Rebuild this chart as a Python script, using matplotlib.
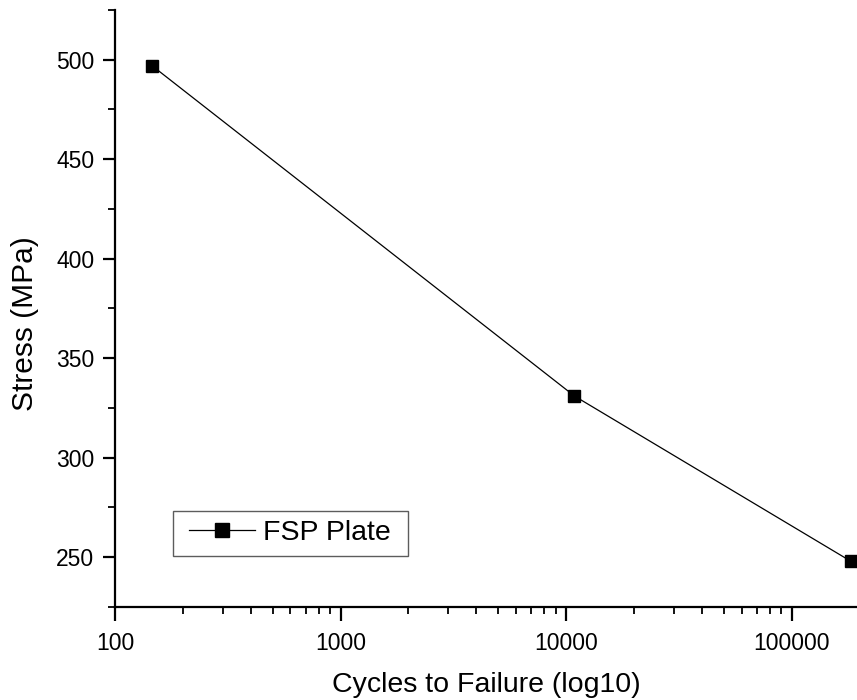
import matplotlib
matplotlib.use("Agg")
import matplotlib.pyplot as plt
from matplotlib.path import Path
from matplotlib.ticker import FixedLocator, MultipleLocator, FixedFormatter

plt.rcParams['font.family'] = ['Liberation Sans', 'DejaVu Sans']

cycles = [146, 10900, 183000]
stress = [497, 331, 248]
series_name = "FSP Plate"
xtick_vals = [100, 1000, 10000, 100000]
xtick_labels = ["100", "1000", "10000", "100000"]

W, H = 857, 700
fig = plt.figure(figsize=(W/100, H/100), dpi=100)
ax = fig.add_axes([115/W, (H-607)/H, (857-115)/W, (607-10)/H])

ax.plot(cycles, stress, color='black', lw=0.9, marker='s', markersize=8.7,
        markerfacecolor='black', markeredgecolor='black', clip_on=False,
        label=series_name)

ax.set_xscale('log')
ax.set_xlim(100, 195000)
ax.set_ylim(225, 525)
ax.xaxis.set_major_locator(FixedLocator(xtick_vals))
ax.xaxis.set_major_formatter(FixedFormatter(xtick_labels))
ax.yaxis.set_major_locator(MultipleLocator(50))
ax.yaxis.set_minor_locator(MultipleLocator(25))

for s in ['top', 'right']:
    ax.spines[s].set_visible(False)
for s in ['left', 'bottom']:
    ax.spines[s].set_linewidth(1.6)

ax.tick_params(which='major', direction='out', length=9, width=1.6, labelsize=16.5, pad=6)
ax.tick_params(which='minor', direction='out', length=5, width=1.3)
ax.tick_params(axis='x', which='major', length=10, pad=8)

ax.set_ylabel("Stress (MPa)", fontsize=21.5)
ax.yaxis.set_label_coords(-0.103, 0.474)
ax.set_xlabel("Cycles to Failure (log10)", fontsize=20.5, labelpad=12)

leg = ax.legend(loc='upper left', bbox_to_anchor=((180-115)/742, (607-511)/597),
                fontsize=20.5, frameon=True, fancybox=False, markerscale=1.15,
                handlelength=2.3, borderpad=0.33, handletextpad=0.3,
                borderaxespad=0)
leg.get_frame().set_edgecolor('#333333')
leg.get_frame().set_linewidth(1.0)


def wide_box(x0, y0, width, height, mutation_size):
    ex = 7
    xa, xb = x0 - ex, x0 + width + ex
    ya, yb = y0, y0 + height
    return Path([(xa, ya), (xb, ya), (xb, yb), (xa, yb), (xa, ya)], closed=True)


leg.get_frame().set_boxstyle(wide_box)

fig.savefig("out.png", dpi=100)
